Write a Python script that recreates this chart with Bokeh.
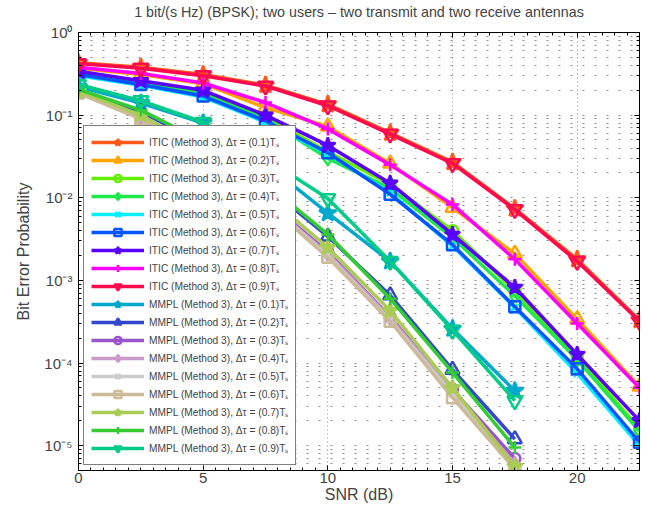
from bokeh.plotting import figure
from bokeh.models import Range1d, LinearAxis, LogAxis, FixedTicker, Legend, LegendItem
from bokeh.embed import file_html
from bokeh.resources import INLINE

snr = [0, 2.5, 5, 7.5, 10, 12.5, 15, 17.5, 20, 22.5]

itic_labels = ["0.1", "0.2", "0.3", "0.4", "0.5", "0.6", "0.7", "0.8", "0.9"]
itic_ber = [
    [0.43, 0.38, 0.31, 0.23, 0.135, 0.061, 0.027, 0.0074, 0.0018, 3.3e-4],
    [0.37, 0.31, 0.24, 0.123, 0.073, 0.026, 0.0076, 0.0021, 3.4e-4, 5.2e-5],
    [0.33, 0.25, 0.19, 0.095, 0.036, 0.0145, 0.0040, 7.5e-4, 1.2e-4, 1.6e-5],
    [0.32, 0.245, 0.18, 0.090, 0.030, 0.013, 0.0033, 6.5e-4, 1.1e-4, 1.5e-5],
    [0.30, 0.23, 0.165, 0.082, 0.034, 0.0115, 0.0026, 4.7e-4, 7.5e-5, 1.0e-5],
    [0.31, 0.235, 0.17, 0.085, 0.035, 0.011, 0.0027, 4.8e-4, 8.5e-5, 1.1e-5],
    [0.34, 0.26, 0.20, 0.100, 0.043, 0.015, 0.0036, 8.2e-4, 1.27e-4, 2.0e-5],
    [0.38, 0.32, 0.245, 0.142, 0.068, 0.025, 0.0083, 0.0018, 3.0e-4, 5.0e-5],
    [0.42, 0.37, 0.30, 0.225, 0.130, 0.059, 0.026, 0.0072, 0.0017, 3.2e-4],
]
mmpl_ber = [
    [0.22, 0.14, 0.080, 0.026, 0.0065, 0.0017, 2.6e-4, 4.6e-5],
    [0.20, 0.11, 0.045, 0.014, 0.0034, 6.6e-4, 8.3e-5, 1.2e-5],
    [0.19, 0.095, 0.036, 0.0095, 0.0022, 3.6e-4, 4.8e-5, 7.0e-6],
    [0.19, 0.093, 0.035, 0.0092, 0.0021, 3.5e-4, 4.5e-5, 6.0e-6],
    [0.185, 0.090, 0.034, 0.0090, 0.0020, 3.3e-4, 4.2e-5, 5.5e-6],
    [0.185, 0.090, 0.033, 0.0088, 0.0019, 3.2e-4, 3.8e-5, 5.2e-6],
    [0.195, 0.100, 0.038, 0.0110, 0.0025, 4.3e-4, 5.0e-5, 5.6e-6],
    [0.205, 0.115, 0.048, 0.0150, 0.0036, 6.0e-4, 7.7e-5, 9.5e-6],
    [0.235, 0.150, 0.082, 0.0300, 0.0098, 0.0017, 2.5e-4, 3.5e-5],
]

itic_colors = ["#ff5a1a", "#ffa500", "#66ee00", "#1ee84a", "#00f0ff",
               "#0055ff", "#5a00ff", "#ff00ff", "#ff0a50"]
mmpl_colors = ["#00a8cc", "#3348cc", "#9955cc", "#cc99cc", "#cccccc",
               "#ccbb99", "#aacc55", "#33cc33", "#00cc88"]
markers = ["star", "triangle", "circle", "diamond", "x", "square", "star", "cross", "inverted_triangle"]
msizes = [18, 14, 11, 14, 10, 11, 16, 13, 15]
filled = [True, False, False, False, False, False, True, False, False]

TITLE = "1 bit/(s Hz) (BPSK); two users \u2013 two transmit and two receive antennas"
FONT = "Liberation Sans"

p = figure(width=663, height=510, y_axis_type="log", title=None,
           x_range=Range1d(0, 22.5), y_range=Range1d(5e-6, 1),
           output_backend="svg", toolbar_location=None,
           min_border_left=78, min_border_right=24, min_border_top=31, min_border_bottom=40)

p.outline_line_color = "black"
p.outline_line_alpha = 1

xt = [0, 5, 10, 15, 20]
yt = [1e-5, 1e-4, 1e-3, 1e-2, 1e-1, 1]
y_minor = [m * d for d in [1e-6, 1e-5, 1e-4, 1e-3, 1e-2, 1e-1] for m in range(2, 10)]
x_minor = [i * 0.5 for i in range(0, 46)]
ylab = {1e-5: "10\u207b\u2075", 1e-4: "10\u207b\u2074", 1e-3: "10\u207b\u00b3",
        1e-2: "10\u207b\u00b2", 1e-1: "10\u207b\u00b9", 1: "10\u2070"}

xticker = FixedTicker(ticks=xt, minor_ticks=x_minor)
yticker = FixedTicker(ticks=yt, minor_ticks=y_minor)

def style_axis(ax):
    ax.major_tick_in = 5
    ax.major_tick_out = 0
    ax.minor_tick_in = 3
    ax.minor_tick_out = 0
    ax.axis_line_color = "black"
    ax.major_tick_line_color = "black"
    ax.minor_tick_line_color = "black"
    ax.major_label_text_font = FONT
    ax.major_label_text_font_size = "15px"
    ax.axis_label_text_font = FONT
    ax.axis_label_text_font_size = "16px"
    ax.axis_label_text_font_style = "normal"

p.xaxis.ticker = xticker
p.yaxis.ticker = yticker
p.yaxis.major_label_overrides = ylab
p.xaxis.axis_label = "SNR (dB)"
p.yaxis.axis_label = "Bit Error Probability"
for ax in p.xaxis + p.yaxis:
    style_axis(ax)
p.xaxis.major_label_standoff = 2
p.xaxis.axis_label_standoff = 0
p.yaxis.major_label_standoff = 6
p.yaxis.axis_label_standoff = 9

top = LinearAxis(ticker=xticker)
right = LogAxis(ticker=yticker)
style_axis(top)
style_axis(right)
for ax in (top, right):
    ax.major_label_text_font_size = "1px"
    ax.major_label_text_alpha = 0
    ax.major_label_standoff = 0
top.axis_label = TITLE
top.axis_label_text_font_size = "14.3px"
top.axis_label_standoff = 13
p.add_layout(top, "above")
p.add_layout(right, "right")

p.xgrid.ticker = xticker
p.ygrid.ticker = yticker
p.xgrid.grid_line_color = "black"
p.xgrid.grid_line_alpha = 0.45
p.xgrid.grid_line_dash = "1 3"
p.ygrid.grid_line_color = "black"
p.ygrid.grid_line_alpha = 0.45
p.ygrid.grid_line_dash = "2 10"
p.ygrid.minor_grid_line_color = "black"
p.ygrid.minor_grid_line_alpha = 0.45
p.ygrid.minor_grid_line_dash = "2 10"

items = []
def add_series(xs, ys, color, i, label):
    lr = p.line(xs, ys, line_color=color, line_width=3.5)
    sr = p.scatter(xs, ys, marker=markers[i], size=msizes[i], line_color=color,
                   line_width=2.5, fill_color=color if filled[i] else None)
    items.append(LegendItem(label=label, renderers=[lr, sr]))

for i, lab in enumerate(itic_labels):
    add_series(snr, itic_ber[i], itic_colors[i], i,
               "ITIC (Method 3), \u0394\u03c4 = (" + lab + ")T\u209b")
for i, lab in enumerate(itic_labels):
    add_series(snr[:8], mmpl_ber[i], mmpl_colors[i], i,
               "MMPL (Method 3), \u0394\u03c4 = (" + lab + ")T\u209b")

legend = Legend(items=items, location=(5, 5), glyph_width=53, glyph_height=18,
                label_height=18, spacing=0, padding=7, margin=0, label_standoff=5,
                label_text_font=FONT, label_text_font_size="10.2px",
                border_line_color="black", border_line_width=1,
                background_fill_color="white", background_fill_alpha=1)
p.add_layout(legend)

open("out.html", "w").write(file_html(p, INLINE))
